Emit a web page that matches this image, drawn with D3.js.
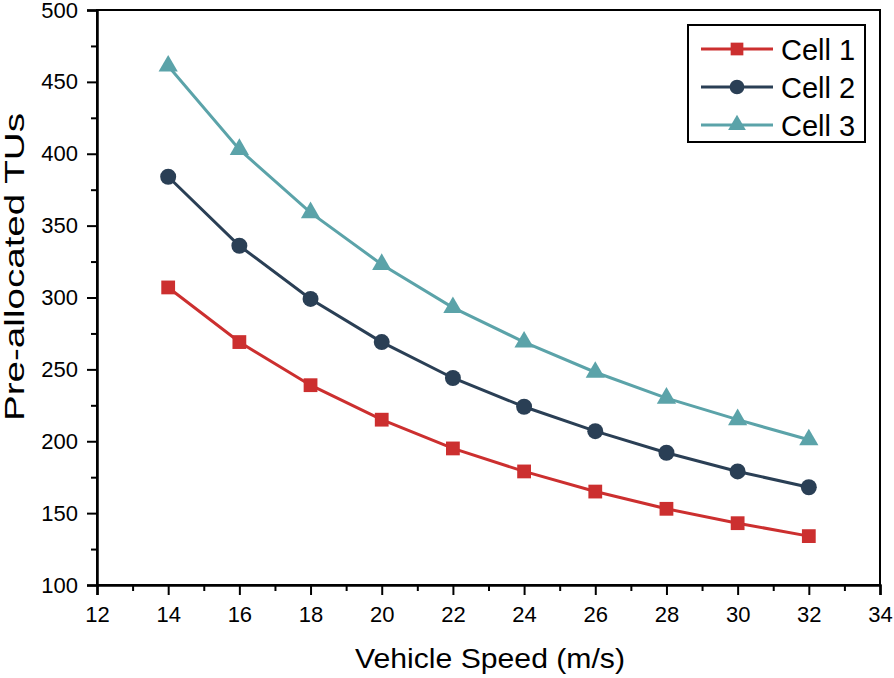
<!DOCTYPE html>
<html>
<head>
<meta charset="utf-8">
<script src="https://cdn.jsdelivr.net/npm/d3@7"></script>
<style>
  body { margin: 0; background: #fff; }
  svg { display: block; font-family: "Liberation Sans", Arial, sans-serif; }
</style>
</head>
<body>
<svg id="chart" width="894" height="678"></svg>
<script>
const speeds = [14, 16, 18, 20, 22, 24, 26, 28, 30, 32];
const cell1 = [307, 269, 239, 215, 195, 179, 165, 153, 143, 134];
const cell2 = [384, 336, 299, 269, 244, 224, 207, 192, 179, 168];
const cell3 = [461, 403, 359, 323, 293, 269, 248, 230, 215, 201];
const seriesNames = ['Cell 1', 'Cell 2', 'Cell 3'];
const xTicks = [12, 14, 16, 18, 20, 22, 24, 26, 28, 30, 32, 34];
const yTicks = [100, 150, 200, 250, 300, 350, 400, 450, 500];

const series = [
  { name: seriesNames[0], values: cell1, color: '#cc2f2f', symbol: d3.symbolSquare, size: 190 },
  { name: seriesNames[1], values: cell2, color: '#2a3f55', symbol: d3.symbolCircle, size: 200 },
  { name: seriesNames[2], values: cell3, color: '#5ba3a9', symbol: d3.symbolTriangle, size: 160 }
];

const svg = d3.select('#chart');
const plotL = 97, plotR = 880, plotT = 10, plotB = 585;

const x = d3.scaleLinear().domain([12, 34]).range([plotL, plotR]);
const y = d3.scaleLinear().domain([100, 500]).range([plotB, plotT]);

// frame
svg.append('rect')
  .attr('x', plotL).attr('y', plotT)
  .attr('width', plotR - plotL).attr('height', plotB - plotT)
  .attr('fill', 'none').attr('stroke', '#000').attr('stroke-width', 2);

// x axis
svg.append('g')
  .attr('transform', `translate(0,${plotB})`)
  .call(d3.axisBottom(x).tickValues(xTicks).tickSize(10).tickPadding(11).tickFormat(d3.format('d')));
svg.append('g')
  .attr('transform', `translate(0,${plotB})`)
  .call(d3.axisBottom(x).tickValues(d3.range(13, 34, 2)).tickSize(6).tickFormat(''))
  .call(g => g.select('.domain').remove());

// y axis
svg.append('g')
  .attr('transform', `translate(${plotL},0)`)
  .call(d3.axisLeft(y).tickValues(yTicks).tickSize(10).tickPadding(9));
svg.append('g')
  .attr('transform', `translate(${plotL},0)`)
  .call(d3.axisLeft(y).tickValues(d3.range(125, 500, 50)).tickSize(6).tickFormat(''))
  .call(g => g.select('.domain').remove());

svg.selectAll('.domain').attr('stroke-width', 2.5);
svg.selectAll('.tick line').attr('stroke-width', 2);
svg.selectAll('.tick text').attr('font-size', 22).attr('fill', '#000')
  .attr('font-family', '"Liberation Sans", Arial, sans-serif');

// axis titles
svg.append('text')
  .attr('x', 490).attr('y', 668)
  .attr('text-anchor', 'middle').attr('font-size', 28)
  .attr('textLength', 270).attr('lengthAdjust', 'spacingAndGlyphs')
  .text('Vehicle Speed (m/s)');
svg.append('text')
  .attr('transform', 'translate(24,267) rotate(-90)')
  .attr('text-anchor', 'middle').attr('font-size', 28)
  .attr('textLength', 308).attr('lengthAdjust', 'spacingAndGlyphs')
  .text('Pre-allocated TUs');

// series
const line = d3.line().x((d, i) => x(speeds[i])).y(d => y(d));
series.forEach(s => {
  svg.append('path')
    .datum(s.values)
    .attr('d', line)
    .attr('fill', 'none')
    .attr('stroke', s.color)
    .attr('stroke-width', 3);
  svg.append('g').selectAll('path')
    .data(s.values)
    .join('path')
    .attr('transform', (d, i) => `translate(${x(speeds[i])},${y(d)})`)
    .attr('d', d3.symbol().type(s.symbol).size(s.size))
    .attr('fill', s.color);
});

// legend
const legend = svg.append('g');
legend.append('rect')
  .attr('x', 688).attr('y', 25).attr('width', 177).attr('height', 117)
  .attr('fill', '#fff').attr('stroke', '#000').attr('stroke-width', 2);
series.forEach((s, i) => {
  const ly = 49 + i * 38;
  legend.append('line')
    .attr('x1', 701).attr('x2', 773).attr('y1', ly).attr('y2', ly)
    .attr('stroke', s.color).attr('stroke-width', 3);
  legend.append('path')
    .attr('transform', `translate(737,${ly})`)
    .attr('d', d3.symbol().type(s.symbol).size(s.size * 0.85))
    .attr('fill', s.color);
  legend.append('text')
    .attr('x', 781).attr('y', ly + 11)
    .attr('font-size', 29)
    .text(s.name);
});
</script>
</body>
</html>
